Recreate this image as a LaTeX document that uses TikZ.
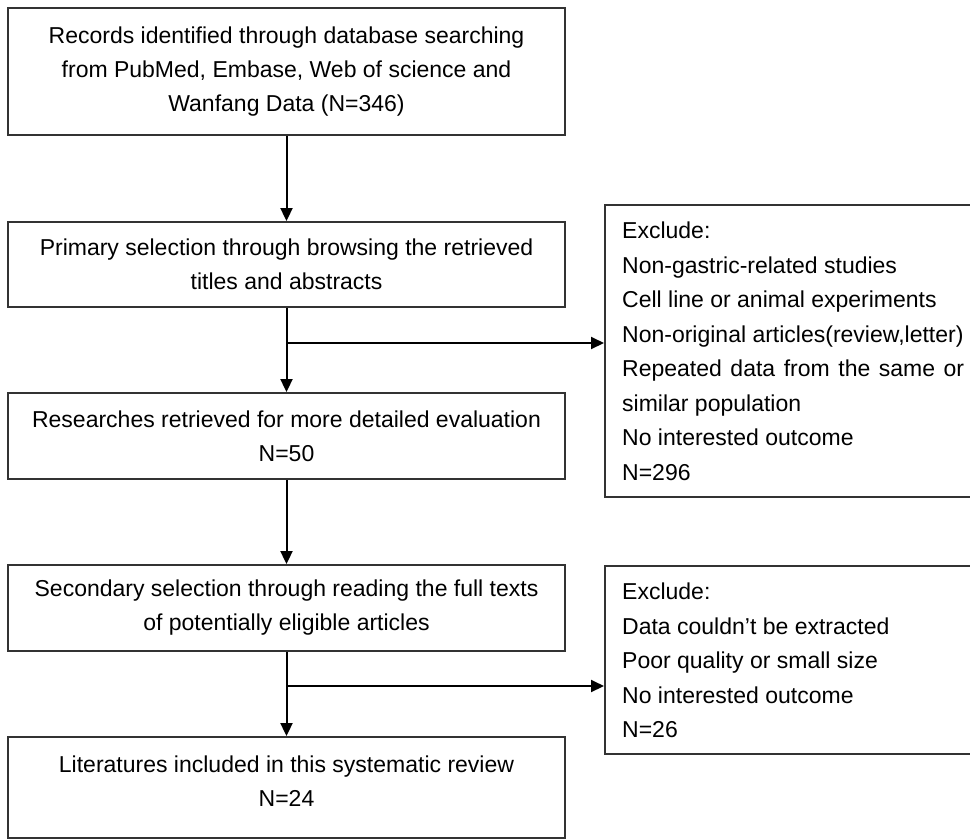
\documentclass[tikz,border=0pt]{standalone}
\usepackage{fontspec}
\setmainfont{Liberation Sans}
\usetikzlibrary{arrows.meta}
\begin{document}
\begin{tikzpicture}[x=1pt,y=-1pt,
  box/.style={draw=black!80, line width=1.9pt, minimum width=557pt, inner sep=0pt},
  txt/.style={align=center, inner sep=0pt, font=\fontsize{23pt}{34pt}\selectfont},
  rbox/.style={draw=black!80, line width=1.9pt, minimum width=380pt, inner sep=0pt, anchor=north west},
  rtxt/.style={align=left, inner sep=0pt, anchor=north west, font=\fontsize{23pt}{34.5pt}\selectfont},
  conn/.style={line width=2pt, draw=black, -{Triangle[length=13pt,width=12pt]}}]
\useasboundingbox (0,0) rectangle (970,839);
\node[box, txt, minimum height=127pt] (b1) at (286.5,71.5)
  {Records identified through database searching\\from PubMed, Embase, Web of science and\\Wanfang Data (N=346)};
\node[box, txt, minimum height=85pt] (b2) at (286.5,264.5)
  {Primary selection through browsing the retrieved\\titles and abstracts};
\node[box, txt, minimum height=86pt] (b3) at (286.5,436)
  {Researches retrieved for more detailed evaluation\\N=50};
\node[box, txt, minimum height=86pt] (b4) at (286.5,608)
  {Secondary selection through reading the full texts\\of potentially eligible articles};
\node[box, minimum height=101pt] (b5) at (286.5,787.5) {};
\node[txt] (b5t) at (286.5,781.5) {Literatures included in this systematic review\\N=24};

\node[rbox, minimum height=292pt] (r1) at (604,204) {};
\node[rtxt] (r1t) at (622,222)
  {Exclude:\\Non-gastric-related studies\\Cell line or animal experiments\\Non-original articles(review,letter)\\\makebox[342pt][s]{Repeated data from the same or}\\similar population\\No interested outcome\\N=296};
\node[rbox, minimum height=188pt] (r2) at (604,565) {};
\node[rtxt] (r2t) at (622,583)
  {Exclude:\\Data couldn't be extracted\\Poor quality or small size\\No interested outcome\\N=26};

\draw[conn] (b1) -- (b2);
\draw[conn] (b2) -- (b3);
\draw[conn] (b3) -- (b4);
\draw[conn] (b4) -- (b5);
\coordinate (j1) at (286.5,343);
\coordinate (j2) at (286.5,686);
\draw[conn] (j1) -- (j1 -| r1.west);
\draw[conn] (j2) -- (j2 -| r2.west);
\end{tikzpicture}
\end{document}
